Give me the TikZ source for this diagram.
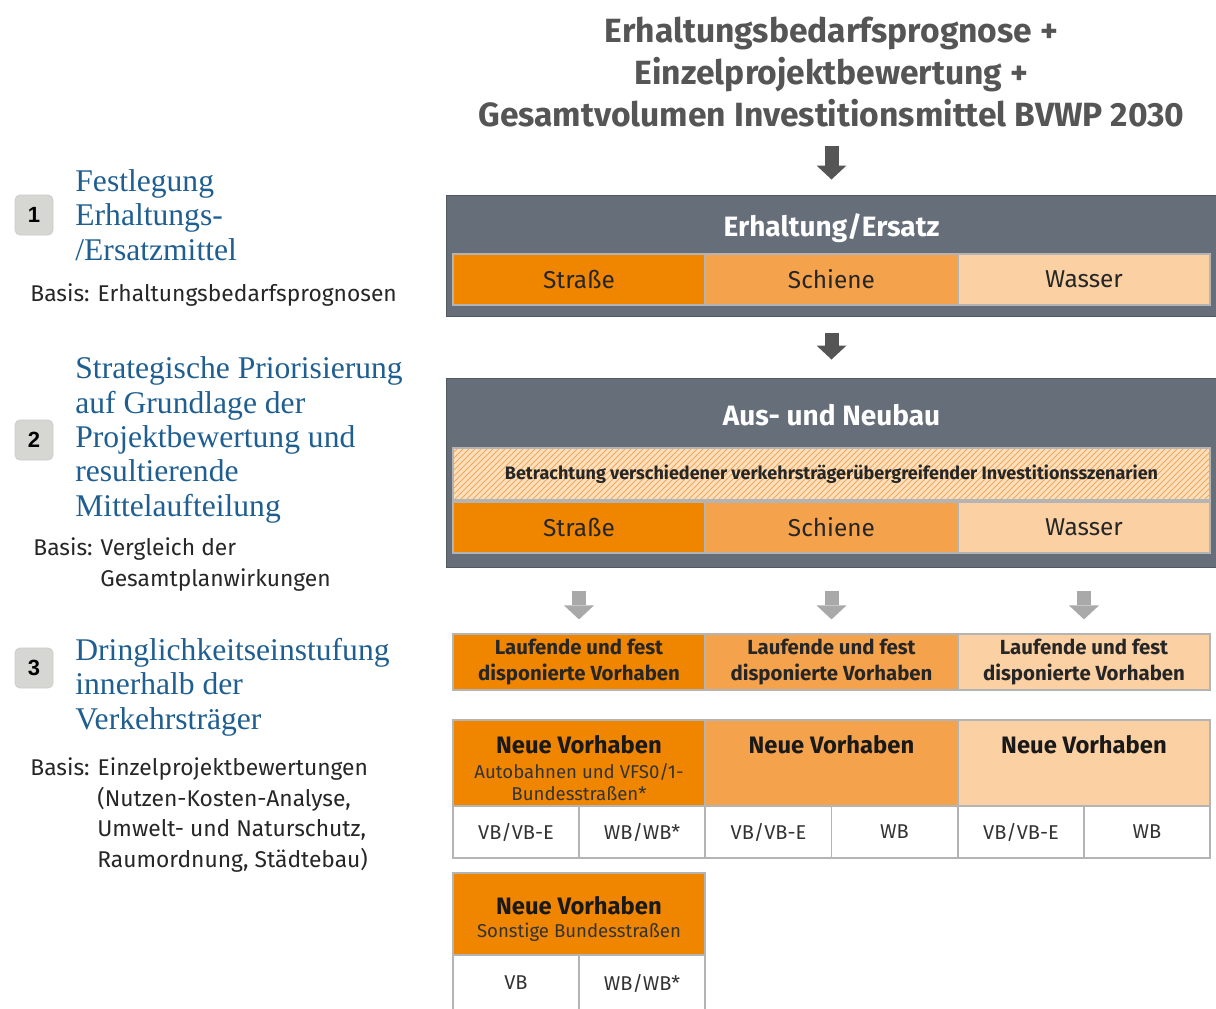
\documentclass[tikz,border=0pt]{standalone}
\usepackage{fontspec}
\setmainfont{Fira Sans}
\newfontfamily\headserif{Liberation Serif}
\newfontfamily\numsans{Liberation Sans}
\usetikzlibrary{arrows.meta,patterns}

\definecolor{strasse}{HTML}{F08600}
\definecolor{schiene}{HTML}{F5A24C}
\definecolor{wasser}{HTML}{FBD0A3}
\definecolor{boxgray}{HTML}{666E7A}
\definecolor{arrowdark}{HTML}{555555}
\definecolor{arrowlight}{HTML}{A9A9A9}
\definecolor{numgray}{HTML}{D6D6D3}
\definecolor{headblue}{HTML}{1F5E90}
\definecolor{cellline}{HTML}{B4B4B4}
\definecolor{titlegray}{HTML}{555555}
\definecolor{hatchbg}{HTML}{FCE0BE}
\definecolor{hatchline}{HTML}{F2A85A}

\begin{document}
\begin{tikzpicture}[x=0.5pt,y=-0.5pt,
    frame/.style={fill=boxgray, draw=boxgray!80!black, line width=0.5pt, inner sep=0pt, minimum width=385pt},
    cell/.style={draw=cellline, line width=0.6pt, inner sep=0pt, minimum width=126pt, minimum height=25.5pt, font=\fontsize{12.2}{14}\selectfont, text=black!85},
    subcell/.style={draw=cellline, fill=white, line width=0.6pt, inner sep=0pt, minimum width=63pt, minimum height=26pt, font=\fontsize{10}{12}\selectfont, text=black!80},
    frametitle/.style={text=white, font=\bfseries\fontsize{14}{16}\selectfont},
    newtitle/.style={inner sep=0pt, text=black!90, font=\bfseries\fontsize{11.9}{14}\selectfont},
    newsub/.style={inner sep=0pt, align=center, text=black!80, font=\fontsize{9.3}{10.8}\selectfont},
    numbox/.style={fill=numgray, draw=black!20, rounded corners=2.5pt, minimum width=19pt, minimum height=20pt, inner sep=0pt, font=\numsans\bfseries\fontsize{11}{13}\selectfont},
    stepname/.style={anchor=west, align=left, text=headblue, font=\headserif\fontsize{15.8}{17.2}\selectfont, inner sep=0pt},
    basis/.style={anchor=west, align=left, text=black!85, inner sep=0pt},
    bigarrow/.style={line width=7pt, -{Triangle[width=15pt,length=7pt,line width=0pt]}},
]
\useasboundingbox (0,0) rectangle (1216,1008);

% title
\node[align=center, text=titlegray, font=\bfseries\fontsize{16.8}{21}\selectfont, inner sep=0pt] (prog) at (831.5,72) {Erhaltungsbedarfsprognose +\\Einzelprojektbewertung +\\Gesamtvolumen Investitionsmittel BVWP 2030};

% Erhaltung / Ersatz
\node[frame, minimum height=60.5pt] (erh) at (831.5,255.5) {};
\node[frametitle] (erhT) at (831.5,228) {Erhaltung/Ersatz};
\node[cell, fill=strasse] (e1) at (579,279.5) {Straße};
\node[cell, fill=schiene] (e2) at (831.5,279.5) {Schiene};
\node[cell, fill=wasser] (e3) at (1084,279.5) {Wasser};

% Aus- und Neubau
\node[frame, minimum height=94.5pt] (aus) at (831.5,472.5) {};
\node[frametitle] (ausT) at (831.5,415) {Aus- und Neubau};
\node[cell, minimum width=378.5pt, minimum height=26pt, preaction={fill=hatchbg}, pattern=north east lines, pattern color=hatchline, font=\bfseries\fontsize{9}{11}\selectfont] (szen) at (831.5,474) {Betrachtung verschiedener verkehrsträgerübergreifender Investitionsszenarien};
\node[cell, fill=strasse] (a1) at (579,527.5) {Straße};
\node[cell, fill=schiene] (a2) at (831.5,527.5) {Schiene};
\node[cell, fill=wasser] (a3) at (1084,527.5) {Wasser};

% laufende Vorhaben
\node[cell, fill=strasse, minimum height=28pt, align=center, font=\bfseries\fontsize{10.2}{13}\selectfont] (l1) at (579,662) {Laufende und fest\\disponierte Vorhaben};
\node[cell, fill=schiene, minimum height=28pt, align=center, font=\bfseries\fontsize{10.2}{13}\selectfont] (l2) at (831.5,662) {Laufende und fest\\disponierte Vorhaben};
\node[cell, fill=wasser, minimum height=28pt, align=center, font=\bfseries\fontsize{10.2}{13}\selectfont] (l3) at (1084,662) {Laufende und fest\\disponierte Vorhaben};

% arrows
\draw[bigarrow, arrowdark, shorten <=9.5pt, shorten >=7.5pt] (prog.south) -- (erh.north);
\draw[bigarrow, arrowdark, shorten <=8pt, shorten >=9pt] (erh.south) -- (aus.north);
\foreach \c in {1,2,3}
    \draw[bigarrow, arrowlight, shorten <=11.5pt, shorten >=7pt] (a\c.south |- aus.south) -- (l\c.north);

% neue Vorhaben
\node[cell, fill=strasse, minimum height=43pt] (n1) at (579,763) {};
\node[cell, fill=schiene, minimum height=43pt] (n2) at (831.5,763) {};
\node[cell, fill=wasser, minimum height=43pt] (n3) at (1084,763) {};
\node[newtitle] (n1T) at (579,745) {Neue Vorhaben};
\node[newtitle] (n2T) at (831.5,745) {Neue Vorhaben};
\node[newtitle] (n3T) at (1084,745) {Neue Vorhaben};
\node[newsub] (n1S) at (579,782) {Autobahnen und VFS0/1-\\Bundesstraßen*};
\node[subcell] (v1) at (516,832) {VB/VB-E};
\node[subcell] (v2) at (642,832) {WB/WB*};
\node[subcell] (v3) at (768.5,832) {VB/VB-E};
\node[subcell] (v4) at (894.5,832) {WB};
\node[subcell] (v5) at (1021,832) {VB/VB-E};
\node[subcell] (v6) at (1147,832) {WB};

% sonstige Bundesstrassen
\node[cell, fill=strasse, minimum height=41pt] (m1) at (579,914) {};
\node[newtitle] (m1T) at (579,906) {Neue Vorhaben};
\node[newsub] (m1S) at (579,932) {Sonstige Bundesstraßen};
\node[subcell, minimum height=28pt] (w1) at (516,983) {VB};
\node[subcell, minimum height=28pt] (w2) at (642,983) {WB/WB*};

% steps on the left
\node[numbox] (k1) at (34,215) {1};
\node[stepname] (s1) at (75,215) {Festlegung\\Erhaltungs-\\/Ersatzmittel};
\node[basis, font=\fontsize{11.4}{15.5}\selectfont] (b1) at (30,295) {Basis: Erhaltungsbedarfsprognosen};

\node[numbox] (k2) at (34,440) {2};
\node[stepname] (s2) at (75,440) {Strategische Priorisierung\\auf Grundlage der\\Projektbewertung und\\resultierende\\Mittelaufteilung};
\node[basis, font=\fontsize{11.4}{15.5}\selectfont] (b2) at (33,565) {Basis: Vergleich der\\\hspace*{33.5pt}Gesamtplanwirkungen};

\node[numbox] (k3) at (34,668) {3};
\node[stepname] (s3) at (75,687) {Dringlichkeitseinstufung\\innerhalb der\\Verkehrsträger};
\node[basis, font=\fontsize{11.4}{15.3}\selectfont] (b3) at (30,815) {Basis: Einzelprojektbewertungen\\\hspace*{33.5pt}(Nutzen-Kosten-Analyse,\\\hspace*{33.5pt}Umwelt- und Naturschutz,\\\hspace*{33.5pt}Raumordnung, Städtebau)};
\end{tikzpicture}
\end{document}
